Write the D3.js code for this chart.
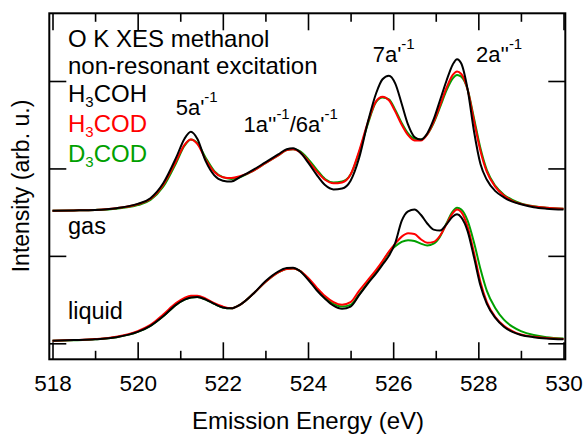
<!DOCTYPE html>
<html><head><meta charset="utf-8">
<script src="https://cdn.jsdelivr.net/npm/d3@7"></script>
<style>
body{margin:0;background:#fff;}
svg text{font-family:"Liberation Sans",Arial,sans-serif;}
</style></head>
<body><svg id="c" width="583" height="434"></svg>
<script>
const energy = [518,518.5,519,519.5,520,520.3,520.6,520.9,521.1,521.25,521.4,521.6,521.8,522.0,522.2,522.4,522.7,523.0,523.3,523.5,523.65,523.8,524.0,524.2,524.4,524.6,524.8,525.0,525.2,525.4,525.6,525.75,525.9,526.05,526.2,526.35,526.5,526.65,526.8,526.95,527.1,527.25,527.4,527.5,527.6,527.75,527.9,528.05,528.2,528.4,528.6,528.8,529.0,529.3,529.6,530];

const gasH3COH = [0.017,0.02,0.025,0.045,0.094,0.16,0.33,0.62,0.84,0.92,0.84,0.58,0.42,0.36,0.35,0.40,0.48,0.57,0.66,0.72,0.73,0.69,0.57,0.43,0.31,0.26,0.27,0.36,0.62,1.02,1.36,1.52,1.56,1.47,1.24,1.00,0.86,0.83,0.90,1.06,1.28,1.50,1.69,1.75,1.70,1.40,0.92,0.55,0.37,0.24,0.17,0.12,0.09,0.056,0.04,0.03];
const gasH3COD = [0.017,0.02,0.025,0.045,0.09,0.15,0.31,0.58,0.77,0.83,0.78,0.60,0.46,0.40,0.39,0.41,0.47,0.56,0.65,0.71,0.72,0.69,0.59,0.47,0.37,0.33,0.34,0.43,0.70,1.02,1.27,1.32,1.28,1.15,1.00,0.88,0.82,0.82,0.89,1.03,1.22,1.42,1.57,1.61,1.58,1.40,1.04,0.70,0.46,0.29,0.19,0.13,0.095,0.065,0.05,0.038];
const gasD3COD = [0.017,0.02,0.025,0.04,0.08,0.14,0.29,0.56,0.76,0.83,0.79,0.62,0.47,0.40,0.38,0.40,0.47,0.56,0.65,0.71,0.72,0.70,0.61,0.49,0.38,0.34,0.35,0.43,0.68,1.00,1.26,1.31,1.29,1.17,1.02,0.90,0.84,0.83,0.89,1.02,1.20,1.39,1.53,1.57,1.55,1.40,1.07,0.73,0.48,0.30,0.20,0.14,0.10,0.068,0.05,0.038];

const liqH3COH = [0.03,0.037,0.046,0.07,0.13,0.20,0.31,0.44,0.50,0.525,0.53,0.50,0.45,0.41,0.40,0.44,0.56,0.71,0.82,0.86,0.865,0.83,0.73,0.61,0.51,0.43,0.395,0.42,0.55,0.68,0.80,0.90,1.00,1.15,1.40,1.51,1.53,1.47,1.37,1.30,1.29,1.36,1.45,1.475,1.44,1.28,0.98,0.66,0.45,0.29,0.19,0.13,0.095,0.07,0.055,0.045];
const liqH3COD = [0.03,0.037,0.048,0.075,0.14,0.21,0.33,0.46,0.52,0.545,0.545,0.51,0.46,0.42,0.40,0.44,0.56,0.70,0.81,0.85,0.855,0.83,0.75,0.64,0.54,0.47,0.44,0.47,0.60,0.72,0.84,0.94,1.05,1.14,1.22,1.26,1.25,1.19,1.15,1.16,1.23,1.36,1.49,1.53,1.50,1.33,1.03,0.70,0.47,0.30,0.20,0.14,0.10,0.075,0.06,0.048];
const liqD3COD = [0.03,0.035,0.045,0.07,0.13,0.20,0.31,0.44,0.50,0.525,0.53,0.50,0.45,0.41,0.40,0.44,0.56,0.70,0.81,0.85,0.855,0.83,0.74,0.62,0.52,0.45,0.42,0.44,0.56,0.69,0.82,0.93,1.04,1.11,1.16,1.18,1.17,1.14,1.12,1.14,1.22,1.37,1.51,1.55,1.53,1.40,1.15,0.85,0.60,0.40,0.27,0.19,0.14,0.095,0.07,0.055];

const gasOffset = 1.5;
const liquidOffset = 0;
const xMajorTicks = [518,520,522,524,526,528,530];
const xMinorTicks = [519,521,523,525,527,529];
const yTicks = [0,1,2,3];
const seriesNames = ["H3COH","H3COD","D3COD"];
const seriesColors = {H3COH:"#000000", H3COD:"#ff0000", D3COD:"#00a000"};

const svg = d3.select("#c");
const L = 49.3, R = 565.3, T = 13.3, B = 359.3;
const x = d3.scaleLinear().domain([518,530]).range([52.5,563.5]);
const y = d3.scaleLinear().domain([0,3]).range([343.3,81]);

const fsBig = 24, fsTick = 22.5, fsPeak = 22, fsSub = 15, fsSup = 15;

// curves
const line = d3.line().x(d=>x(d[0])).y(d=>y(d[1])).curve(d3.curveMonotoneX);
const groups = [
  {off: gasOffset, data: {H3COH:gasH3COH, H3COD:gasH3COD, D3COD:gasD3COD}},
  {off: liquidOffset, data: {H3COH:liqH3COH, H3COD:liqH3COD, D3COD:liqD3COD}}
];
const drawOrder = ["D3COD","H3COD","H3COH"];
groups.forEach(g=>{
  drawOrder.forEach(name=>{
    const pts = energy.map((e,i)=>[e, g.data[name][i] + g.off]);
    svg.append("path").attr("d", line(pts)).attr("fill","none")
      .attr("stroke", seriesColors[name]).attr("stroke-width",2).attr("stroke-linejoin","round");
  });
});

// frame
svg.append("rect").attr("x",L).attr("y",T).attr("width",R-L).attr("height",B-T)
  .attr("fill","none").attr("stroke","#000").attr("stroke-width",2);

// axes ticks
function xAxis(gen, ty, size, vals, labels){
  const a = gen(x).tickValues(vals).tickSizeInner(size).tickSizeOuter(0).tickPadding(15.6)
    .tickFormat(labels ? d3.format("d") : "");
  const g = svg.append("g").attr("transform",`translate(0,${ty})`).call(a);
  g.select(".domain").remove();
  g.selectAll(".tick line").attr("stroke","#000").attr("stroke-width",1.6);
  if(labels) g.selectAll(".tick text").attr("font-size",fsTick).attr("fill","#000").attr("font-family","Liberation Sans, Arial, sans-serif");
  else g.selectAll(".tick text").remove();
  return g;
}
xAxis(d3.axisBottom, B, -17, xMajorTicks, true);
xAxis(d3.axisBottom, B, -8.5, xMinorTicks, false);
xAxis(d3.axisTop, T, -17, xMajorTicks, false);
xAxis(d3.axisTop, T, -8.5, xMinorTicks, false);

function yAxis(gen, tx){
  const a = gen(y).tickValues(yTicks).tickSizeInner(-17).tickSizeOuter(0).tickFormat("");
  const g = svg.append("g").attr("transform",`translate(${tx},0)`).call(a);
  g.select(".domain").remove();
  g.selectAll(".tick text").remove();
  g.selectAll(".tick line").attr("stroke","#000").attr("stroke-width",1.6);
}
yAxis(d3.axisLeft, L);
yAxis(d3.axisRight, R);

// axis titles
svg.append("text").attr("x",308).attr("y",429).attr("text-anchor","middle")
  .attr("font-size",fsBig).text("Emission Energy (eV)");
svg.append("text").attr("transform","translate(28.5,186) rotate(-90)").attr("text-anchor","middle")
  .attr("font-size",23).text("Intensity (arb. u.)");

// legend / annotations
const tx = 68;
svg.append("text").attr("x",tx).attr("y",46.7).attr("font-size",fsBig).text("O K XES methanol");
svg.append("text").attr("x",tx).attr("y",74).attr("font-size",fsBig).text("non-resonant excitation");
const legendY = [101.7,131.7,161.7];
const legendParts = [["H","3","COH"],["H","3","COD"],["D","3","COD"]];
seriesNames.forEach((n,i)=>{
  const t = svg.append("text").attr("x",tx).attr("y",legendY[i]).attr("font-size",fsBig).attr("fill",seriesColors[n]);
  t.append("tspan").text(legendParts[i][0]);
  t.append("tspan").attr("font-size",fsSub).attr("dy",5).text(legendParts[i][1]);
  t.append("tspan").attr("dy",-5).text(legendParts[i][2]);
});
svg.append("text").attr("x",tx).attr("y",234).attr("font-size",23.5).text("gas");
svg.append("text").attr("x",tx).attr("y",319.3).attr("font-size",23.5).text("liquid");

function peakLabel(px, py, parts){
  const t = svg.append("text").attr("x",px).attr("y",py).attr("font-size",fsPeak);
  let raised = false;
  parts.forEach(p=>{
    const s = t.append("tspan").text(p.s);
    if(p.sup){ s.attr("font-size",fsSup).attr("dy",-13); raised = true; }
    else if(raised){ s.attr("dy",13); raised = false; }
  });
}
peakLabel(175.7,115,[{s:"5a'"},{s:"-1",sup:true}]);
peakLabel(243.5,131.7,[{s:"1a''"},{s:"-1",sup:true},{s:"/6a'"},{s:"-1",sup:true}]);
peakLabel(372.7,61.7,[{s:"7a'"},{s:"-1",sup:true}]);
peakLabel(476,61.7,[{s:"2a''"},{s:"-1",sup:true}]);
</script></body></html>
